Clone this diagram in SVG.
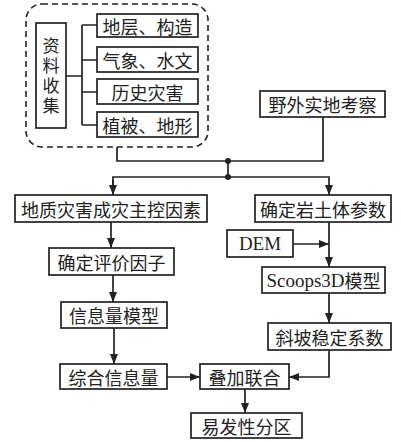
<svg xmlns="http://www.w3.org/2000/svg" width="401" height="442" viewBox="0 0 401 442">
<style>
.b{fill:#fff;stroke:#222;stroke-width:1.7}
.t{font-family:"Noto Sans CJK SC",sans-serif;font-size:18px;fill:#222;text-anchor:middle;dominant-baseline:central}
.v{font-family:"Noto Sans CJK SC",sans-serif;font-size:17px;fill:#222;text-anchor:middle;writing-mode:vertical-rl;letter-spacing:3px}
.s{font-family:"Liberation Serif","Noto Sans CJK SC",serif;font-size:19px;fill:#222;text-anchor:middle;dominant-baseline:central}
.l{fill:none;stroke:#222;stroke-width:1.7}
</style>
<defs>
<marker id="a" viewBox="0 0 10 8" refX="10" refY="4" markerWidth="10" markerHeight="8" markerUnits="userSpaceOnUse" orient="auto"><path d="M0,0L10,4L0,8z" fill="#222"/></marker>
</defs>
<rect x="26" y="4" width="182" height="143" rx="16" fill="none" stroke="#222" stroke-width="1.6" stroke-dasharray="6,4"/>
<g id="collect"><rect class="b" x="36" y="23" width="30" height="105"/>
<text class="v" x="51" y="77">资料收集</text></g>
<g id="n1"><rect class="b" x="97" y="14" width="101" height="23"/><text class="t" x="147.5" y="25.5">地层、构造</text></g>
<g id="n2"><rect class="b" x="97" y="47" width="101" height="25"/><text class="t" x="147.5" y="59.5">气象、水文</text></g>
<g id="n3"><rect class="b" x="97" y="79" width="101" height="25"/><text class="t" x="147.5" y="91.5">历史灾害</text></g>
<g id="n4"><rect class="b" x="97" y="112" width="101" height="25"/><text class="t" x="147.5" y="124.5">植被、地形</text></g>
<g id="field"><rect class="b" x="260" y="91" width="125" height="26"/><text class="t" x="322.5" y="104">野外实地考察</text></g>
<g id="geo"><rect class="b" x="15" y="195" width="192" height="27"/><text class="t" x="111" y="208.5">地质灾害成灾主控因素</text></g>
<g id="rock"><rect class="b" x="255" y="195" width="136" height="27"/><text class="t" x="323" y="208.5">确定岩土体参数</text></g>
<g id="dem"><rect class="b" x="227" y="230" width="66" height="27"/><text class="s" x="260" y="243.5">DEM</text></g>
<g id="eval"><rect class="b" x="49" y="248" width="125" height="27"/><text class="t" x="111.5" y="261.5">确定评价因子</text></g>
<g id="scoops"><rect class="b" x="262" y="267" width="123" height="26"/><text class="s" x="323.5" y="280"><tspan>Scoops3D</tspan><tspan font-family="Noto Sans CJK SC,sans-serif" font-size="18">模型</tspan></text></g>
<g id="info"><rect class="b" x="61" y="302" width="106" height="26"/><text class="t" x="114" y="315">信息量模型</text></g>
<g id="slope"><rect class="b" x="268" y="323" width="123" height="27"/><text class="t" x="329.5" y="336.5">斜坡稳定系数</text></g>
<g id="comp"><rect class="b" x="60" y="364" width="107" height="25"/><text class="t" x="113.5" y="376.5">综合信息量</text></g>
<g id="overlay"><rect class="b" x="200" y="364" width="89" height="25"/><text class="t" x="244.5" y="376.5">叠加联合</text></g>
<g id="zone"><rect class="b" x="191" y="413" width="111" height="25"/><text class="t" x="246.5" y="425.5">易发性分区</text></g>
<g id="connectors">
<path class="l" d="M66,76H82M82,25V125M82,25H97M82,60H97M82,92H97M82,125H97"/>
<path class="l" d="M117,147V161H323V117"/>
<path class="l" d="M228,161V177"/>
<path class="l" d="M113,195V177H329V195" marker-end="url(#a)"/>
<path class="l" d="M113,180V195" marker-end="url(#a)"/>
<circle cx="228" cy="161" r="3" fill="#222"/>
<circle cx="228" cy="177" r="3" fill="#222"/>
<path class="l" d="M111,222V248" marker-end="url(#a)"/>
<path class="l" d="M113,275V302" marker-end="url(#a)"/>
<path class="l" d="M114,328V364" marker-end="url(#a)"/>
<path class="l" d="M167,377H200" marker-end="url(#a)"/>
<path class="l" d="M329,350V377H289" marker-end="url(#a)"/>
<path class="l" d="M245,389V413" marker-end="url(#a)"/>
<path class="l" d="M329,222V267" marker-end="url(#a)"/>
<path class="l" d="M293,244H329" marker-end="url(#a)"/>
<path class="l" d="M329,293V323" marker-end="url(#a)"/>
</g>
</svg>
